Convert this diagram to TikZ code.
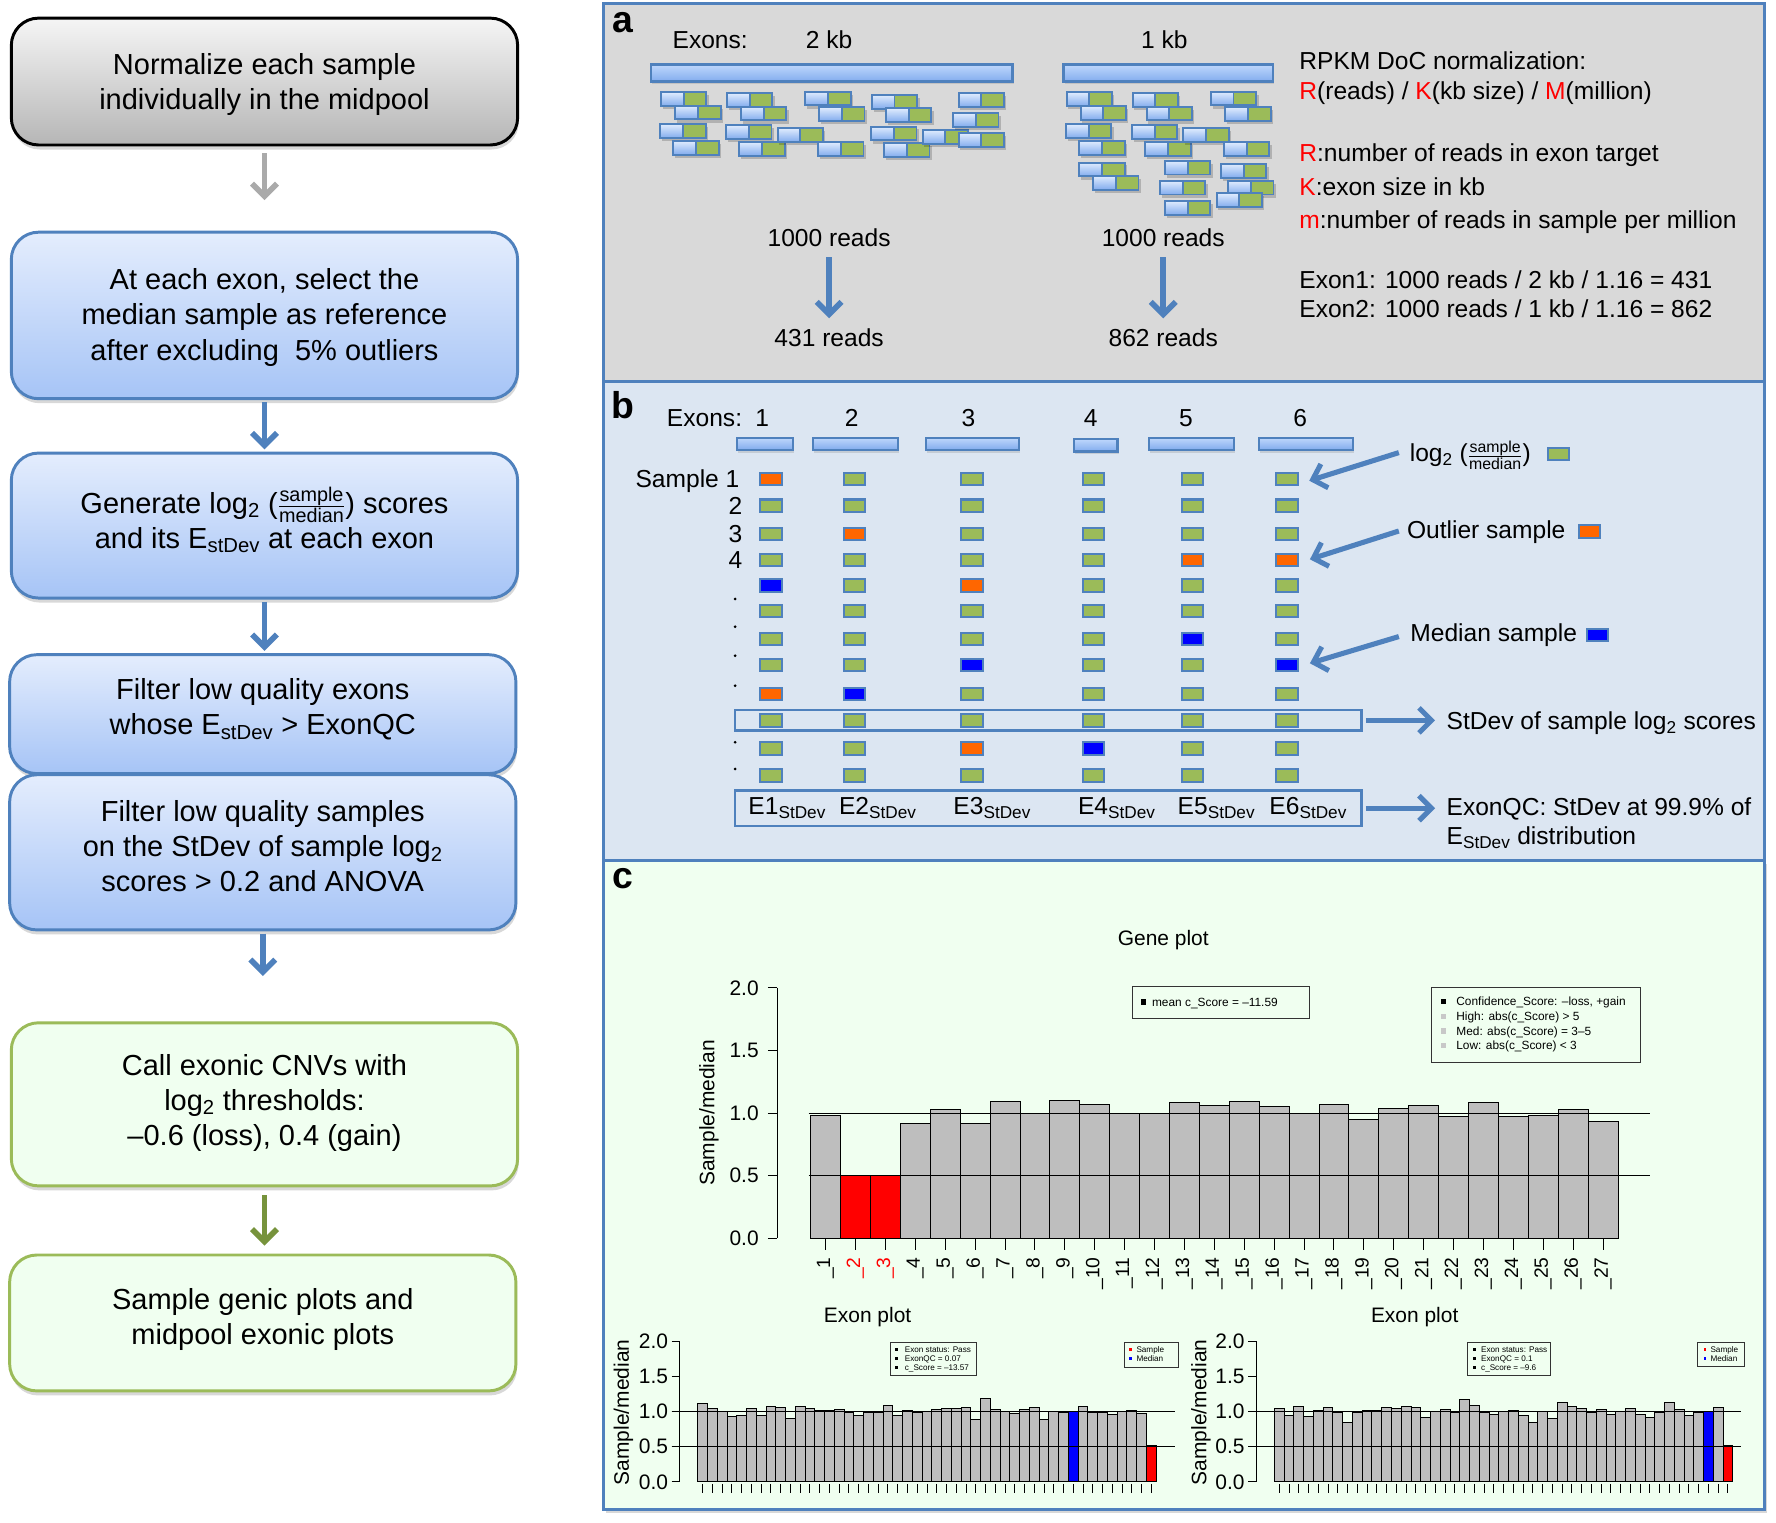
\documentclass[tikz,border=0pt]{standalone}
\usepackage{fontspec}
\setmainfont{Liberation Sans}
\usetikzlibrary{arrows.meta,shadows}

\definecolor{bxblue}{RGB}{79,129,189}
\definecolor{bxtop}{RGB}{228,237,253}
\definecolor{bxbot}{RGB}{166,196,246}
\definecolor{grtop}{RGB}{245,245,245}
\definecolor{grbot}{RGB}{182,182,182}
\definecolor{gnfill}{RGB}{240,255,240}
\definecolor{gnborder}{RGB}{155,187,89}
\definecolor{gnarrow}{RGB}{119,147,60}
\definecolor{garrow}{RGB}{170,170,170}
\definecolor{pa}{RGB}{217,217,217}
\definecolor{pb}{RGB}{220,230,242}
\definecolor{pc}{RGB}{240,255,240}
\definecolor{sqg}{RGB}{155,187,89}
\definecolor{sqo}{RGB}{255,102,0}
\definecolor{sqb}{RGB}{0,0,255}
\definecolor{exlight}{RGB}{190,215,252}
\definecolor{exdark}{RGB}{130,172,238}
\definecolor{bargray}{RGB}{190,190,190}
\definecolor{legray}{RGB}{200,200,200}

\newcommand{\szFlow}{\fontsize{25.6}{31}\selectfont}
\newcommand{\szMid}{\fontsize{21.7}{27}\selectfont}
\newcommand{\szPlot}{\fontsize{18.5}{22}\selectfont}
\newcommand{\szTick}{\fontsize{17}{20}\selectfont}
\newcommand{\szLeg}{\fontsize{10.5}{13}\selectfont}
\newcommand{\szTiny}{\fontsize{7.2}{8}\selectfont}
\newcommand{\szPanel}{\fontsize{33}{36}\selectfont\bfseries}
\newcommand{\smfrac}[1]{$\frac{\hbox{\fontsize{#1}{#1}\selectfont sample}}{\hbox{\fontsize{#1}{#1}\selectfont median}}$}
\newcommand{\upstrut}[1]{\rule{0pt}{#1}}
\newcommand{\dnstrut}[1]{\rule[-#1]{0pt}{0pt}}

\newcommand{\exonbars}[4]{%
  \foreach \v [count=\i] in {#4} {
    \pgfmathsetmacro\xa{#1+(\i-1)*8.61}
    \pgfmathsetmacro\xb{\xa+8.61}
    \pgfmathsetmacro\yt{1308-\v*62}
    \ifnum\i=#2 \def\bc{sqb}\else\ifnum\i=#3 \def\bc{red}\else\def\bc{bargray}\fi\fi
    \draw[pbar, line width=0.5pt, fill=\bc] (\xa,1308) rectangle (\xb,\yt);
    \pgfmathsetmacro\xc{\xa+4.305}
    \draw[line width=0.5pt] (\xc,1310) -- (\xc,1318);
  }}

\tikzset{
  flow/.style={rounded corners=24pt, line width=2.6pt, align=center, font=\szFlow, inner sep=0pt,
     minimum width=447pt, drop shadow={opacity=0.3, shadow xshift=1pt, shadow yshift=-4pt}},
  bluebox/.style={flow, draw=bxblue, top color=bxtop, bottom color=bxbot},
  graybox/.style={flow, draw=black, top color=grtop, bottom color=grbot},
  greenbox/.style={flow, draw=gnborder, fill=gnfill},
  farrow/.style={line width=5pt, -{Straight Barb[length=11pt,width=22pt]}},
  panel/.style={draw=bxblue, line width=2.5pt, inner sep=0pt},
  mid/.style={font=\szMid, inner sep=0pt, text height=15.5pt, text depth=0pt},
  plotlbl/.style={font=\szPlot, inner sep=0pt, text height=13.3pt, text depth=0pt},
  ticklbl/.style={font=\szTick, inner sep=0pt},
  sq/.style={draw=bxblue, line width=1.8pt, minimum width=19pt, minimum height=11pt, inner sep=0pt},
  exbar/.style={draw=bxblue, line width=2pt, top color=exlight, bottom color=exdark,
     drop shadow={opacity=0.25, shadow xshift=1pt, shadow yshift=-2.5pt}},
  pbar/.style={draw=black, line width=0.6pt},
  legbox/.style={draw=black!80, line width=0.9pt, inner sep=0pt},
  leg/.style={font=\szLeg, inner sep=0pt, anchor=west, text height=7.6pt, text depth=0pt},
  tinytxt/.style={font=\szTiny, inner sep=0pt, anchor=west, text height=5.2pt, text depth=0pt},
  read/.pic={
    \fill[black, opacity=0.18] (1.5,2.5) rectangle (42,15);
    \draw[draw=bxblue, line width=1.6pt, top color=exlight!50!white, bottom color=exdark] (0,0) rectangle (20,12);
    \draw[draw=bxblue, line width=1.6pt, fill=sqg] (20,0) rectangle (40,12);
  }
}

\begin{document}
\begin{tikzpicture}[x=1pt, y=-1pt]
\fill[white] (0,0) rectangle (1568,1344);
\useasboundingbox (0,0) rectangle (1568,1344);

% ---------------- left flow chart ----------------
\node[graybox, minimum height=112pt] (b1) at (233.5,72) {\upstrut{24pt}Normalize each sample\\individually in the midpool};
\node[bluebox, minimum height=147pt] (b2) at (233.5,278.5) {\upstrut{22pt}At each exon, select the\\median sample as reference\\after excluding\ \ 5\% outliers};
\node[bluebox, minimum height=128pt] (b3) at (233.5,464) {Generate log\textsubscript{2} (\smfrac{17.5}) scores\\and its E\textsubscript{stDev} at each exon\dnstrut{14pt}};
\node[bluebox, minimum height=105pt] (b4) at (232,630.5) {Filter low quality exons\\whose E\textsubscript{stDev} > ExonQC\dnstrut{13pt}};
\node[bluebox, minimum height=137pt] (b5) at (232,752.5) {Filter low quality samples\\on the StDev of sample log\textsubscript{2}\\scores > 0.2 and ANOVA\dnstrut{11pt}};
\node[greenbox, minimum height=144pt] (b6) at (233.5,975) {Call exonic CNVs with\\log\textsubscript{2} thresholds:\\–0.6 (loss), 0.4 (gain)\dnstrut{8pt}};
\node[greenbox, minimum height=120pt] (b7) at (232,1168) {Sample genic plots and\\midpool exonic plots\dnstrut{11pt}};

\draw[farrow, draw=garrow, shorten <=6pt, shorten >=27pt] (b1.south) -- (b1.south |- b2.north);
\draw[farrow, draw=bxblue, shorten <=2pt, shorten >=2pt] (b2.south) -- (b2.south |- b3.north);
\draw[farrow, draw=bxblue, shorten <=2pt, shorten >=2pt] (b3.south) -- (b3.south |- b4.north);
\draw[farrow, draw=bxblue, shorten <=2pt, shorten >=40pt] (b5.south) -- (b5.south |- b6.north);
\draw[farrow, draw=gnarrow, shorten <=7pt, shorten >=7pt] (b6.south) -- (b6.south |- b7.north);

% ---------------- panels ----------------
\node[panel, fill=pc, minimum width=1025pt, minimum height=573pt,
      drop shadow={opacity=0.3, shadow xshift=2pt, shadow yshift=-3pt}] (pC) at (1045.5,1046.5) {};
\node[panel, fill=pb, minimum width=1025pt, minimum height=423pt] (pB) at (1045.5,548.5) {};
\node[panel, fill=pa, minimum width=1025pt, minimum height=334pt] (pA) at (1045.5,170) {};

\node[font=\szPanel, inner sep=0pt] (la) at (550,20) {a};
\node[font=\szPanel, inner sep=0pt] (lb) at (550,358) {b};
\node[font=\szPanel, inner sep=0pt] (lc) at (550,776) {c};

% ---------------- panel a ----------------
\draw[exbar] (575,57) rectangle (894,72);
\draw[exbar] (939,57) rectangle (1124,72);
\foreach \x/\y in {583.6/81.5,596.2/93.3,583/109.8,594.5/124.5,641.8/82.4,654.2/94.2,641.2/110.6,652.7/125.4,686.6/113.3,711/81,723.3/94.8,722.4/125.7,769.8/83.9,782.2/95.6,769.2/111.8,780.7/126.5,814.6/114.8,846.4/82.4,841.6/100,846.4/117.7}
  \pic at (\x,\y) {read};
\foreach \x/\y in {941.7/81.5,954.1/93.6,941.1/109.8,952.9/124.5,952.9/143.6,965.2/155.4,1000/82.4,1012.3/94.2,999.4/110.6,1011.2/125.4,1044.7/113.3,1028.5/142.1,1024.1/159.8,1028.5/177.5,1069.1/81,1081.8/94.8,1080.6/125.7,1078/144.8,1084.4/159.8,1074.1/170.7}
  \pic at (\x,\y) {read};

\node[mid] (exA) at (627,35) {Exons:};
\node[mid] (kb2) at (732,35) {2 kb};
\node[mid] (kb1) at (1028,35) {1 kb};
\node[mid] (rd1) at (732,210) {1000 reads};
\node[mid] (rn1) at (732,298) {431 reads};
\node[mid] (rd2) at (1027,210) {1000 reads};
\node[mid] (rn2) at (1027,298) {862 reads};
\draw[farrow, draw=bxblue, shorten <=9pt, shorten >=9pt] (rd1) -- (rn1);
\draw[farrow, draw=bxblue, shorten <=9pt, shorten >=9pt] (rd2) -- (rn2);

\node[mid, anchor=west] (ta1) at (1147,54) {RPKM DoC normalization:};
\node[mid, anchor=west] (ta2) at (1147,80) {{\color{red}R}(reads) / {\color{red}K}(kb size) / {\color{red}M}(million)};
\node[mid, anchor=west] (ta3) at (1147,135) {{\color{red}R}:number of reads in exon target};
\node[mid, anchor=west] (ta4) at (1147,165) {{\color{red}K}:exon size in kb};
\node[mid, anchor=west] (ta5) at (1147,194) {{\color{red}m}:number of reads in sample per million};
\node[mid, anchor=west] (ta6) at (1147,247) {Exon1: 1000 reads / 2 kb / 1.16 = 431};
\node[mid, anchor=west] (ta7) at (1147,273) {Exon2: 1000 reads / 1 kb / 1.16 = 862};

% ---------------- panel b ----------------
\node[mid] (exB) at (622,369) {Exons:};
\foreach \n/\x in {1/673,2/752,3/855,4/963,5/1047,6/1148}
  \node[mid] (en\n) at (\x,369) {\n};
\draw[exbar] (650.7,386.5) rectangle (700,397);
\draw[exbar] (718,386.5) rectangle (792.8,397);
\draw[exbar] (817.6,386.5) rectangle (899.8,397);
\draw[exbar] (948.2,387.5) rectangle (986.7,398.5);
\draw[exbar] (1014.5,386.5) rectangle (1089.4,397);
\draw[exbar] (1111.6,386.5) rectangle (1194.2,397);

\node[mid, anchor=east] (sl1) at (653,423) {Sample 1};
\node[mid, anchor=east] (sl2) at (655.5,446.5) {2};
\node[mid, anchor=east] (sl3) at (655.5,471.5) {3};
\node[mid, anchor=east] (sl4) at (655.5,494.5) {4};
\foreach \y in {528.8,553.3,578.9,605.4,655.3,678.9}
  \fill (649,\y) circle (1.3);

\node[draw=bxblue, line width=2pt, minimum width=553pt, minimum height=18pt, inner sep=0pt] (sdbox) at (925.5,636) {};
\node[draw=bxblue, line width=2pt, minimum width=553pt, minimum height=31pt, inner sep=0pt] (ebox) at (925.5,713.5) {};

\foreach \r/\yy/\cols in {1/423/{o,g,g,g,g,g},2/446.5/{g,g,g,g,g,g},3/471.5/{g,o,g,g,g,g},4/494.5/{g,g,g,g,o,o},5/517/{b,g,o,g,g,g},6/539.5/{g,g,g,g,g,g},7/564/{g,g,g,g,b,g},8/587/{g,g,b,g,g,b},9/612.5/{o,b,g,g,g,g},10/636/{g,g,g,g,g,g},11/661/{g,g,o,b,g,g},12/684.5/{g,g,g,g,g,g}}
{
  \foreach \c [count=\i] in \cols {
    \pgfmathsetmacro\cx{{680.5,754.3,858,965.5,1052.8,1136.2}[\i-1]}
    \node[sq, fill=sq\c] (s-\r-\i) at (\cx,\yy) {};
  }
}

\foreach \k/\x in {1/695,2/775,3/876,4/986,5/1074,6/1155}
  \node[mid] (el\k) at (\x,711) {E\k\textsubscript{StDev}};

\node[mid, anchor=west] (lg) at (1244.5,400) {log\textsubscript{2} (\smfrac{14})};
\node[sq, fill=sqg] (lgsq) at (1376,401) {};
\node[mid, anchor=west] (ol) at (1242,468) {Outlier sample};
\node[sq, fill=sqo] (olsq) at (1403.5,469.4) {};
\node[mid, anchor=west] (md) at (1245,559) {Median sample};
\node[sq, fill=sqb] (mdsq) at (1410.5,560.6) {};

\draw[farrow, line width=4.5pt, draw=bxblue] ([shift={(-9.5,-0.4)}]lg.west) -- ([shift={(9.3,1.4)}]s-1-6.east);
\draw[farrow, line width=4.5pt, draw=bxblue] ([shift={(-7,0.8)}]ol.west) -- ([shift={(9.9,-0.7)}]s-4-6.east);
\draw[farrow, line width=4.5pt, draw=bxblue] ([shift={(-10,3)}]md.west) -- ([shift={(9.9,-1.4)}]s-8-6.east);

\node[mid, anchor=west] (sdt) at (1277,636) {StDev of sample log\textsubscript{2} scores};
\node[mid, anchor=west] (eq1) at (1277,712) {ExonQC: StDev at 99.9\% of};
\node[mid, anchor=west] (eq2) at (1277,738) {E\textsubscript{StDev} distribution};
\draw[farrow, line width=4.5pt, draw=bxblue, shorten <=3pt, shorten >=10pt] (sdbox.east) -- (sdt.west);
\draw[farrow, line width=4.5pt, draw=bxblue, shorten <=3pt, shorten >=10pt] (ebox.east) -- (ebox.east -| eq1.west);

% ---------------- panel c : gene plot ----------------
\node[plotlbl] (gtitle) at (1027,828) {Gene plot};
\draw[line width=0.6pt] (686,872) -- (686,1093);
\foreach \t/\lab [count=\k] in {0/0.0,0.5/0.5,1/1.0,1.5/1.5,2/2.0} {
  \pgfmathsetmacro\ty{1093-\t*110.5}
  \draw[line width=0.6pt] (678,\ty) -- (686,\ty);
  \node[plotlbl, anchor=east] (gy\k) at (670,\ty) {\lab};
}
\node[plotlbl, rotate=90] (gyl) at (624,982.5) {Sample/median};

\foreach \v [count=\i] in {0.98,0.5,0.5,0.92,1.03,0.92,1.09,1.0,1.1,1.07,1.0,1.0,1.08,1.06,1.09,1.05,1.0,1.07,0.95,1.04,1.06,0.97,1.08,0.97,0.98,1.03,0.93} {
  \pgfmathsetmacro\xa{715.6+(\i-1)*26.4}
  \pgfmathsetmacro\xb{\xa+26.4}
  \pgfmathsetmacro\yt{1093-\v*110.5}
  \ifnum\i=2 \def\bc{red}\else\ifnum\i=3 \def\bc{red}\else\def\bc{bargray}\fi\fi
  \draw[pbar, fill=\bc] (\xa,1093) rectangle (\xb,\yt);
}
\draw[line width=0.6pt] (714,982.5) -- (1457,982.5);
\draw[line width=0.6pt] (714,1037.75) -- (1457,1037.75);
\foreach \i in {1,...,27} {
  \pgfmathsetmacro\xc{715.6+(\i-0.5)*26.4}
  \ifnum\i=2 \def\lc{red}\else\ifnum\i=3 \def\lc{red}\else\def\lc{black}\fi\fi
  \draw[line width=0.6pt] (\xc,1094) -- (\xc,1104);
  \node[ticklbl, rotate=90, anchor=east, text=\lc] (gx\i) at (\xc,1110) {\_\i};
}

\node[legbox, minimum width=156pt, minimum height=28pt] (gl1) at (1078,885) {};
\fill (1007,882) rectangle (1012,887);
\node[leg] (gl1t) at (1016.9,884.5) {mean c\_Score = –11.59};

\node[legbox, minimum width=184pt, minimum height=66pt] (gl2) at (1356,905) {};
\fill[black] (1272,882) rectangle (1276.5,886.5);
\fill[legray] (1272,895) rectangle (1276.5,899.5);
\fill[legray] (1272,908) rectangle (1276.5,912.5);
\fill[legray] (1272,921) rectangle (1276.5,925.5);
\node[leg] (gl2a) at (1285.6,884) {Confidence\_Score: –loss, +gain};
\node[leg] (gl2b) at (1285.6,897) {High: abs(c\_Score) > 5};
\node[leg] (gl2c) at (1285.6,910) {Med: abs(c\_Score) = 3–5};
\node[leg] (gl2d) at (1285.6,923) {Low: abs(c\_Score) < 3};

% ---------------- panel c : exon plots ----------------
\node[plotlbl] (et1) at (766,1161) {Exon plot};
\node[plotlbl] (et2) at (1249,1161) {Exon plot};
\draw[line width=0.6pt] (600,1184) -- (600,1308);
\draw[line width=0.6pt] (1109,1184) -- (1109,1308);
\foreach \t/\lab [count=\k] in {0/0.0,0.5/0.5,1/1.0,1.5/1.5,2/2.0} {
  \pgfmathsetmacro\ty{1308-\t*62}
  \draw[line width=0.6pt] (593,\ty) -- (600,\ty);
  \draw[line width=0.6pt] (1102,\ty) -- (1109,\ty);
  \node[plotlbl, anchor=east] (ya\k) at (590,\ty) {\lab};
  \node[plotlbl, anchor=east] (yb\k) at (1099,\ty) {\lab};
}
\node[plotlbl, rotate=90] (eyl1) at (548.5,1247) {Sample/median};
\node[plotlbl, rotate=90] (eyl2) at (1058.5,1247) {Sample/median};

\exonbars{615.9}{39}{47}{1.12,1.04,1.0,0.93,0.94,1.04,0.95,1.07,1.06,0.9,1.07,1.05,1.01,1.01,1.03,0.99,0.94,0.98,0.99,1.09,0.95,1.01,0.99,1.0,1.03,1.04,1.04,1.06,0.89,1.19,1.03,1.0,0.97,1.03,1.06,0.89,1.0,0.99,1.0,1.07,0.99,0.99,0.96,1.0,1.01,0.97,0.52}
\exonbars{1125}{45}{47}{1.05,0.95,1.07,0.93,1.01,1.06,0.99,0.85,0.99,1.01,1.02,1.06,1.05,1.07,1.06,0.92,1.0,1.03,0.98,1.17,1.09,0.99,0.96,1.0,1.02,0.95,0.85,1.0,0.9,1.13,1.07,1.05,0.99,1.03,0.96,1.0,1.05,0.96,0.92,0.98,1.13,1.03,0.95,0.99,1.0,1.06,0.51}

\draw[line width=0.6pt] (593,1246) -- (1037,1246);
\draw[line width=0.6pt] (593,1277) -- (1037,1277);
\draw[line width=0.6pt] (1102,1246) -- (1537,1246);
\draw[line width=0.6pt] (1102,1277) -- (1537,1277);

% exon legends left
\node[legbox, line width=0.7pt, minimum width=76.6pt, minimum height=29.5pt] (xl1) at (824,1199.75) {};
\foreach \y in {1191.5,1199.5,1207.5} \fill (790.5,\y-1.3) rectangle (793.1,\y+1.3);
\node[tinytxt] (xl1a) at (798.7,1191.5) {Exon status: Pass};
\node[tinytxt] (xl1b) at (798.7,1199.5) {ExonQC = 0.07};
\node[tinytxt] (xl1c) at (798.7,1207.5) {c\_Score = –13.57};
\node[legbox, line width=0.7pt, minimum width=47.7pt, minimum height=22pt] (xl2) at (1016.15,1196) {};
\fill[red] (996.5,1190.2) rectangle (999.1,1192.8);
\fill[sqb] (996.5,1198.2) rectangle (999.1,1200.8);
\node[tinytxt] (xl2a) at (1003.2,1191.5) {Sample};
\node[tinytxt] (xl2b) at (1003.2,1199.5) {Median};

% exon legends right
\node[legbox, line width=0.7pt, minimum width=73.6pt, minimum height=29pt] (xr1) at (1332.2,1199.5) {};
\foreach \y in {1191.5,1199.5,1207.5} \fill (1300.5,\y-1.3) rectangle (1303.1,\y+1.3);
\node[tinytxt] (xr1a) at (1307.5,1191.5) {Exon status: Pass};
\node[tinytxt] (xr1b) at (1307.5,1199.5) {ExonQC = 0.1};
\node[tinytxt] (xr1c) at (1307.5,1207.5) {c\_Score = –9.6};
\node[legbox, line width=0.7pt, minimum width=41.5pt, minimum height=21pt] (xr2) at (1519.55,1195.5) {};
\fill[red] (1504,1190.2) rectangle (1506.6,1192.8);
\fill[sqb] (1504,1198.2) rectangle (1506.6,1200.8);
\node[tinytxt] (xr2a) at (1510,1191.5) {Sample};
\node[tinytxt] (xr2b) at (1510,1199.5) {Median};

\end{tikzpicture}
\end{document}
